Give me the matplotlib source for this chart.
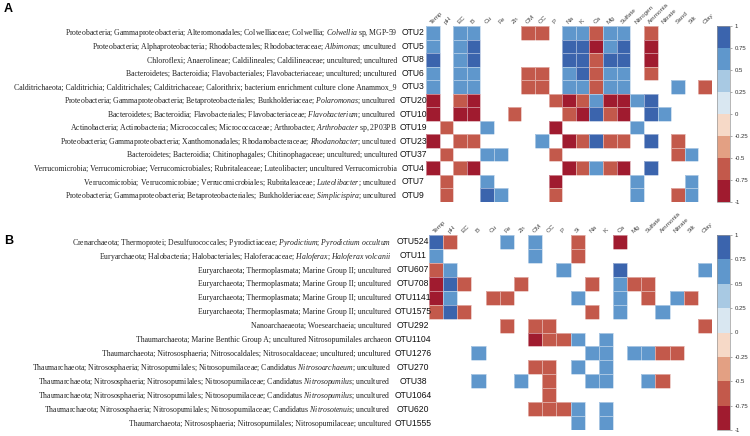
#!/usr/bin/env python3
"""Spearman correlation heatmaps: bacterial (A) and archaeal (B) OTUs vs. soil variables."""

import re

import matplotlib
matplotlib.use("Agg")
import matplotlib.pyplot as plt
import numpy as np
from matplotlib.colors import BoundaryNorm, ListedColormap
from matplotlib.transforms import blended_transform_factory

plt.rcParams.update({
    "font.family": "sans-serif",
    "font.sans-serif": ["Liberation Sans", "DejaVu Sans"],
    "mathtext.fontset": "custom",
    "mathtext.rm": "Liberation Serif",
    "mathtext.it": "Liberation Serif:italic",
})

# ---- data -------------------------------------------------------------------
A_VARS = ["Temp", "pH", "EC", "B", "Cu", "Fe", "Zn", "OM", "OC", "P", "Na", "K",
          "Ca", "Mg", "Sulfate", "Nitrogen", "Ammonia", "Nitrate", "Sand", "Silt", "Clay"]
A_OTUS = ["OTU2", "OTU5", "OTU8", "OTU6", "OTU3", "OTU20", "OTU10", "OTU19",
          "OTU23", "OTU37", "OTU4", "OTU7", "OTU9"]
A_TAXA = [
    "Proteobacteria; Gammaproteobacteria; Alteromonadales; Colwelliaceae; Colwellia; *Colwellia* sp, MGP-59",
    "Proteobacteria; Alphaproteobacteria; Rhodobacterales; Rhodobacteraceae; *Albimonas*; uncultured",
    "Chloroflexi; Anaerolineae; Caldilineales; Caldilineaceae; uncultured; uncultured",
    "Bacteroidetes; Bacteroidia; Flavobacteriales; Flavobacteriaceae; uncultured; uncultured",
    "Calditrichaeota; Calditrichia; Calditrichales; Calditrichaceae; Calorithrix; bacterium enrichment culture clone Anammox_9",
    "Proteobacteria; Gammaproteobacteria; Betaproteobacteriales; Burkholderiaceae; *Polaromonas*; uncultured",
    "Bacteroidetes; Bacteroidia; Flavobacteriales; Flavobacteriaceae; *Flavobacterium*; uncultured",
    "Actinobacteria; Actinobacteria; Micrococcales; Micrococcaceae; Arthrobacter; *Arthrobacter* sp, 2P03PB",
    "Proteobacteria; Gammaproteobacteria; Xanthomonadales; Rhodanobacteraceae; *Rhodanobacter*; uncultured",
    "Bacteroidetes; Bacteroidia; Chitinophagales; Chitinophagaceae; uncultured; uncultured",
    "Verrucomicrobia; Verrucomicrobiae; Verrucomicrobiales; Rubritaleaceae; Luteolibacter; uncultured Verrucomicrobia",
    "Verrucomicrobia; Verrucomicrobiae; Verrucomicrobiales; Rubritaleaceae; *Luteolibacter*; uncultured",
    "Proteobacteria; Gammaproteobacteria; Betaproteobacteriales; Burkholderiaceae; *Simplicispira*; uncultured",
]
A_CORR = [
    {"Temp": 0.6, "EC": 0.6, "B": 0.6, "OM": -0.6, "OC": -0.6, "Na": 0.6, "K": 0.6, "Ca": -0.6,
     "Mg": 0.6, "Sulfate": 0.6, "Ammonia": -0.6},
    {"Temp": 0.6, "EC": 0.6, "B": 0.85, "Na": 0.85, "K": 0.85, "Ca": -0.85, "Mg": 0.6,
     "Sulfate": 0.85, "Ammonia": -0.85},
    {"Temp": 0.85, "EC": 0.6, "B": 0.85, "Na": 0.85, "K": 0.85, "Ca": -0.6, "Mg": 0.85,
     "Sulfate": 0.85, "Ammonia": -0.85},
    {"Temp": 0.6, "EC": 0.6, "B": 0.6, "OM": -0.6, "OC": -0.6, "Na": 0.6, "K": 0.85, "Ca": -0.6,
     "Mg": 0.6, "Sulfate": 0.6, "Ammonia": -0.6},
    {"Temp": 0.6, "EC": 0.6, "B": 0.6, "OM": -0.6, "OC": -0.6, "Na": 0.6, "K": 0.6, "Ca": -0.6,
     "Mg": 0.6, "Sulfate": 0.6, "Sand": 0.6, "Clay": -0.6},
    {"Temp": -0.85, "EC": -0.6, "B": -0.85, "P": -0.6, "Na": -0.85, "K": -0.6, "Ca": 0.6,
     "Mg": -0.85, "Sulfate": -0.85, "Nitrogen": 0.6, "Ammonia": 0.85},
    {"Temp": -0.85, "EC": -0.85, "B": -0.85, "Zn": -0.6, "Na": -0.6, "K": -0.85, "Ca": 0.85,
     "Mg": -0.6, "Sulfate": -0.85, "Ammonia": 0.85, "Nitrate": 0.6},
    {"pH": -0.6, "Cu": 0.6, "P": -0.85, "Nitrogen": 0.6},
    {"Temp": -0.85, "EC": -0.6, "B": -0.6, "OC": 0.6, "Na": -0.85, "K": -0.6, "Ca": 0.85,
     "Mg": -0.6, "Sulfate": -0.6, "Ammonia": 0.85, "Sand": -0.6},
    {"pH": -0.6, "Cu": 0.6, "Fe": 0.6, "P": -0.6, "Sand": -0.6, "Silt": 0.6},
    {"Temp": -0.85, "EC": -0.6, "B": -0.85, "Na": -0.85, "K": -0.6, "Ca": 0.6, "Mg": -0.6,
     "Sulfate": -0.85, "Ammonia": 0.85},
    {"pH": -0.6, "Cu": 0.6, "P": -0.85, "Nitrogen": 0.6, "Silt": 0.6},
    {"pH": -0.6, "Cu": 0.85, "Fe": 0.6, "P": -0.6, "Nitrogen": 0.6, "Sand": -0.6, "Silt": 0.6},
]

B_VARS = ["Temp", "pH", "EC", "B", "Cu", "Fe", "Zn", "OM", "OC", "P", "Si", "Na", "K",
          "Ca", "Mg", "Sulfate", "Ammonia", "Nitrate", "Silt", "Clay"]
B_OTUS = ["OTU524", "OTU11", "OTU607", "OTU708", "OTU1141", "OTU1575", "OTU292",
          "OTU1104", "OTU1276", "OTU270", "OTU38", "OTU1064", "OTU620", "OTU1555"]
B_TAXA = [
    "Crenarchaeota; Thermoprotei; Desulfurococcales; Pyrodictiaceae; *Pyrodictium*; *Pyrodictium occultum*",
    "Euryarchaeota; Halobacteria; Halobacteriales; Haloferacaceae; *Haloferax*; *Haloferax volcanii*",
    "Euryarchaeota; Thermoplasmata; Marine Group II; uncultured",
    "Euryarchaeota; Thermoplasmata; Marine Group II; uncultured",
    "Euryarchaeota; Thermoplasmata; Marine Group II; uncultured",
    "Euryarchaeota; Thermoplasmata; Marine Group II; uncultured",
    "Nanoarchaeaeota; Woesearchaeia; uncultured",
    "Thaumarchaeota; Marine Benthic Group A; uncultured Nitrosopumilales archaeon",
    "Thaumarchaeota; Nitrososphaeria; Nitrosocaldales; Nitrosocaldaceae; uncultured; uncultured",
    "Thaumarchaeota; Nitrososphaeria; Nitrosopumilales; Nitrosopumilaceae; Candidatus *Nitrosoarchaeum*; uncultured",
    "Thaumarchaeota; Nitrososphaeria; Nitrosopumilales; Nitrosopumilaceae; Candidatus *Nitrosopumilus*; uncultured",
    "Thaumarchaeota; Nitrososphaeria; Nitrosopumilales; Nitrosopumilaceae; Candidatus *Nitrosopumilus*; uncultured",
    "Thaumarchaeota; Nitrososphaeria; Nitrosopumilales; Nitrosopumilaceae; Candidatus *Nitrosotenuis*; uncultured",
    "Thaumarchaeota; Nitrososphaeria; Nitrosopumilales; Nitrosopumilaceae; uncultured",
]
B_CORR = [
    {"Temp": 0.85, "pH": -0.6, "Fe": 0.6, "OM": 0.6, "Si": -0.6, "Ca": -0.85},
    {"Temp": 0.6, "OM": 0.6, "Si": -0.6},
    {"Temp": -0.6, "pH": 0.6, "P": 0.6, "Ca": 0.85, "Clay": 0.6},
    {"Temp": -0.85, "pH": 0.85, "EC": -0.6, "Zn": -0.6, "Na": -0.6, "Ca": 0.6, "Mg": -0.6,
     "Sulfate": -0.6},
    {"Temp": -0.85, "pH": 0.6, "Cu": -0.6, "Fe": -0.6, "Si": 0.6, "Ca": 0.6, "Sulfate": -0.6,
     "Nitrate": 0.6, "Silt": -0.6},
    {"Temp": -0.6, "pH": 0.85, "EC": -0.6, "Na": -0.6, "Ca": 0.6, "Ammonia": 0.6},
    {"Fe": -0.6, "OM": -0.6, "OC": -0.6, "Clay": -0.6},
    {"OM": -0.85, "OC": -0.6, "P": -0.6, "Si": 0.6, "K": 0.6},
    {"B": 0.6, "Na": 0.6, "K": 0.6, "Mg": 0.6, "Sulfate": 0.6, "Ammonia": -0.6, "Nitrate": -0.6},
    {"OM": -0.6, "OC": -0.6, "Si": 0.6, "K": 0.6},
    {"B": 0.6, "Zn": 0.6, "OC": -0.6, "Na": 0.6, "K": 0.6, "Sulfate": 0.6, "Ammonia": -0.6},
    {"OC": -0.6},
    {"OM": -0.6, "OC": -0.6, "P": -0.6, "Si": 0.6, "K": 0.6},
    {"Si": 0.6, "K": 0.6},
]

CBAR_TICKS = [-1, -0.75, -0.5, -0.25, 0, 0.25, 0.5, 0.75, 1]
CBAR_LABELS = ["-1", "-0.75", "-0.5", "-0.25", "0", "0.25", "0.5", "0.75", "1"]

COLORS = ["#a01b2f", "#c3594b", "#e3a083", "#f6d9c7",
          "#d9e7f1", "#a8c9e3", "#5f97cc", "#3b64ad"]

W, H = 750, 436


def to_matrix(corr, variables):
    mat = np.full((len(corr), len(variables)), np.nan)
    for i, row in enumerate(corr):
        for name, value in row.items():
            mat[i, variables.index(name)] = value
    return np.ma.masked_invalid(mat)


def italicize(label):
    # *text* -> mathtext italic (spaces escaped)
    return re.sub(r"\*(.+?)\*",
                  lambda m: r"$\mathit{" + m.group(1).replace(" ", r"\ ") + "}$", label)


def panel(fig, corr, variables, otus, taxa, box, cbox, tax_right, otu_center, letter, letter_y):
    x0, y0, x1, y1 = box
    ax = fig.add_axes([x0 / W, 1 - y1 / H, (x1 - x0) / W, (y1 - y0) / H])
    cmap = ListedColormap(COLORS)
    norm = BoundaryNorm(np.linspace(-1, 1, 9), cmap.N)
    mesh = ax.pcolormesh(to_matrix(corr, variables), cmap=cmap, norm=norm,
                         edgecolors=(1, 1, 1, 0.45), linewidth=0.6)
    ax.set_xlim(0, len(variables))
    ax.set_ylim(len(otus), 0)
    for spine in ax.spines.values():
        spine.set_visible(False)
    ax.set_yticks([])
    ax.xaxis.tick_top()
    ax.set_xticks(np.arange(len(variables)) + 0.5)
    ax.set_xticklabels(variables, rotation=45, ha="left", va="bottom",
                       rotation_mode="anchor", fontsize=4.6, color="#444444")
    ax.tick_params(axis="x", length=0, pad=1)

    trans = blended_transform_factory(fig.transFigure, ax.transData)
    for i, (otu, taxon) in enumerate(zip(otus, taxa)):
        ax.text(otu_center / W, i + 0.5, otu, transform=trans, ha="center", va="center",
                fontsize=6.2, color="#111111")
        ax.text(tax_right / W, i + 0.55, italicize(taxon), transform=trans, ha="right",
                va="center", fontsize=5.6, family="Liberation Serif", color="#222222")

    cx0, cy0, cx1, cy1 = cbox
    cax = fig.add_axes([cx0 / W, 1 - cy1 / H, (cx1 - cx0) / W, (cy1 - cy0) / H])
    cb = fig.colorbar(mesh, cax=cax, ticks=CBAR_TICKS)
    cb.ax.set_yticklabels(CBAR_LABELS)
    cb.ax.tick_params(labelsize=4.3, length=1.5, width=0.5, color="#888888",
                      labelcolor="#333333", pad=2)
    cb.outline.set_edgecolor("#999999")
    cb.outline.set_linewidth(0.5)

    fig.text(4 / W, 1 - letter_y / H, letter, fontsize=9, fontweight="bold",
             ha="left", va="center")


def main():
    fig = plt.figure(figsize=(W / 100, H / 100), dpi=100)
    panel(fig, A_CORR, A_VARS, A_OTUS, A_TAXA,
          box=(426, 26, 712, 202), cbox=(717, 26, 730, 202),
          tax_right=397, otu_center=413, letter="A", letter_y=9)
    panel(fig, B_CORR, B_VARS, B_OTUS, B_TAXA,
          box=(429, 235, 712, 430), cbox=(717, 235, 730, 430),
          tax_right=391, otu_center=413, letter="B", letter_y=241)
    fig.savefig("out.png", dpi=100)


if __name__ == "__main__":
    main()
